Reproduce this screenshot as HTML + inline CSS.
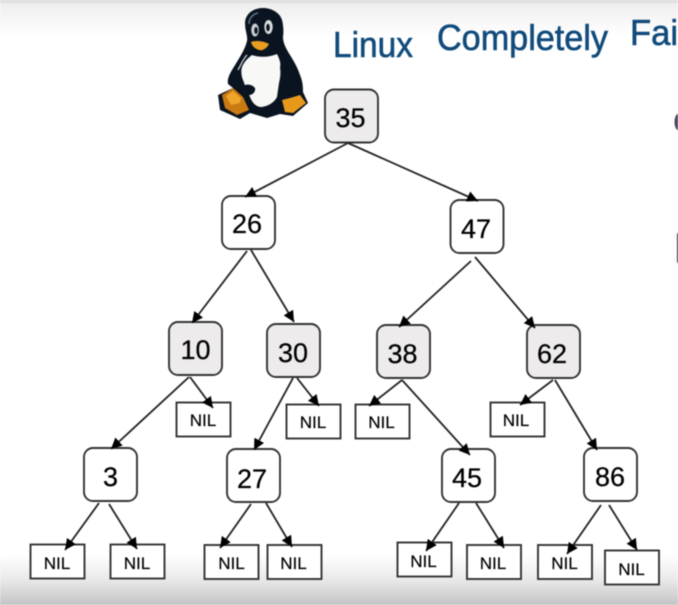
<!DOCTYPE html>
<html>
<head>
<meta charset="utf-8">
<style>
html,body{margin:0;padding:0;background:#fff}
#c{position:relative;width:678px;height:605px;overflow:hidden}
svg{position:absolute;left:0;top:0;display:block;filter:blur(.45px)}
text{font-family:"Liberation Sans",sans-serif;fill:#000;text-anchor:middle}
.n{font-size:27px;stroke:#000;stroke-width:.25px}
.l{font-size:17px;stroke:#000;stroke-width:.2px}
.h{font-size:36px;fill:#104b7c;stroke:#104b7c;stroke-width:.6px;text-anchor:start}
</style>
</head>
<body>
<div id="c">
<svg width="678" height="605" viewBox="0 0 678 605" xmlns="http://www.w3.org/2000/svg">
<defs>
<linearGradient id="t" x1="0" y1="0" x2="0" y2="1"><stop offset="0" stop-color="#d6d6d6"/><stop offset=".12" stop-color="#efefef"/><stop offset="1" stop-color="#fff"/></linearGradient>
<linearGradient id="b" x1="0" y1="0" x2="0" y2="1"><stop offset="0" stop-color="#fff"/><stop offset=".5" stop-color="#e9e9e9"/><stop offset="1" stop-color="#c4c4c4"/></linearGradient>
<marker id="a" markerUnits="userSpaceOnUse" markerWidth="14" markerHeight="12" refX="11" refY="5.500" orient="auto"><path d="M0,0 L11,5.500 L0,11 Z" fill="#000"/></marker>
<g id="nil"><rect width="54" height="34" fill="#fff" stroke="#333" stroke-width="1.9"/></g>
</defs>
<rect width="678" height="605" fill="#fff"/>
<rect width="678" height="36" fill="url(#t)"/>
<rect y="555" width="678" height="50" fill="url(#b)"/>

<!-- penguin -->
<path d="M263,8 C252,8 245,15 245,23 C245,31 248,36 247,41 C245,50 238,60 232,70 C229,75 227,80 228,84 L233,88 L218,95 L220,110 L240,119 L250,113 L267,118 L280,114 L293,116 L308,103 L303,92 C303,84 302,80 300,75 C297,66 293,60 290,55 C285,47 283,42 283,37 C284,30 283,24 282,20 C280,13 272,8 263,8 Z" fill="#0a1420"/>
<path d="M252,55 C260,58 270,57 277,54 C280,60 281,64 280,67 C281,74 280,79 279,83 L277,97 C274,103 267,107 260,107 C255,106 252,102 250,97 C248,92 245,86 243,80 C241,75 241,70 242,67 C244,62 248,58 252,55 Z" fill="#f8f8f6"/>
<path d="M240,88 C245,83 252,84 255,88 C256,92 252,96 247,95 C244,95 241,92 240,88 Z" fill="#0a1420"/>
<path d="M279,90 C282,84 289,83 293,86 C294,91 290,96 284,97 C281,97 279,94 279,90 Z" fill="#0a1420"/>
<path d="M238,70 C241,64 244,58 247,55" stroke="#dfe3e8" stroke-width="1.2" fill="none"/>
<path d="M249,24 C249,18 253,14 258,13" stroke="#5a6e8a" stroke-width="1.6" fill="none"/>
<ellipse cx="255" cy="30" rx="3.800" ry="6.500" fill="#c9ced2"/>
<ellipse cx="268.500" cy="27" rx="4.200" ry="7" fill="#d8dcdf"/>
<ellipse cx="256" cy="30.500" rx="1.700" ry="3.500" fill="#0a1420"/>
<ellipse cx="268" cy="27.500" rx="1.800" ry="3.800" fill="#0a1420"/>
<path d="M251,42 C256,40 264,41 269,44 C267,48 263,51 259,50 C255,49 252,46 251,42 Z" fill="#e89e20"/>
<path d="M222,95 L233,88 L243,97 L249,110 L237,115 L225,108 Z" fill="#c97a12"/>
<path d="M226,96 L233,91 L241,98 L240,103 L231,105 Z" fill="#efa52a"/>
<path d="M282,100 L290,98 L300,95 L306,103 L293,113 L285,112 Z" fill="#e8991c"/>

<!-- title -->
<text class="h" x="333" y="57" textLength="80" lengthAdjust="spacingAndGlyphs">Linux</text>
<text class="h" x="437" y="50" textLength="171" lengthAdjust="spacingAndGlyphs">Completely</text>
<text class="h" x="630" y="45" textLength="48" lengthAdjust="spacingAndGlyphs">Fai</text>

<!-- right-edge fragments -->
<ellipse cx="678" cy="122" rx="3.500" ry="8" fill="#4a4560"/>
<rect x="677" y="233" width="2" height="30" rx="1" fill="#222"/>

<!-- nodes -->
<g stroke="#333" stroke-width="1.9">
<rect x="325" y="89.500" width="53" height="53" rx="9" fill="#edebeb"/>
<rect x="222" y="196" width="53" height="53" rx="9" fill="#fff"/>
<rect x="450.500" y="200" width="53" height="53" rx="9" fill="#fff"/>
<rect x="169" y="322" width="53" height="53" rx="9" fill="#edebeb"/>
<rect x="267" y="324" width="53" height="53" rx="9" fill="#edebeb"/>
<rect x="377" y="325" width="53" height="53" rx="9" fill="#edebeb"/>
<rect x="527" y="325" width="53" height="53" rx="9" fill="#edebeb"/>
<rect x="84" y="448" width="53" height="53" rx="9" fill="#fff"/>
<rect x="227" y="449" width="53" height="53" rx="9" fill="#fff"/>
<rect x="442" y="449" width="53" height="53" rx="9" fill="#fff"/>
<rect x="584" y="448" width="53" height="53" rx="9" fill="#fff"/>
</g>
<use href="#nil" x="176.500" y="402.500"/>
<use href="#nil" x="286.500" y="404.500"/>
<use href="#nil" x="355.500" y="404.500"/>
<use href="#nil" x="490.500" y="402.500"/>
<use href="#nil" x="30.500" y="544.500"/>
<use href="#nil" x="110.500" y="544.500"/>
<use href="#nil" x="204.500" y="545"/>
<use href="#nil" x="267.500" y="545"/>
<use href="#nil" x="397.500" y="542.500"/>
<use href="#nil" x="467" y="545"/>
<use href="#nil" x="538" y="545"/>
<use href="#nil" x="605" y="550.500"/>

<!-- connectors -->
<g stroke="#222" stroke-width="1.8" fill="none">
<line x1="348" y1="143" x2="245" y2="197" marker-end="url(#a)"/>
<line x1="348" y1="143" x2="478" y2="201" marker-end="url(#a)"/>
<line x1="247" y1="251" x2="192" y2="323" marker-end="url(#a)"/>
<line x1="251" y1="250" x2="294" y2="322" marker-end="url(#a)"/>
<line x1="471" y1="261" x2="399" y2="327" marker-end="url(#a)"/>
<line x1="475" y1="257" x2="535" y2="328" marker-end="url(#a)"/>
<line x1="189" y1="377" x2="111" y2="449" marker-end="url(#a)"/>
<line x1="190" y1="377" x2="213" y2="408" marker-end="url(#a)"/>
<line x1="293" y1="378" x2="254" y2="450" marker-end="url(#a)"/>
<line x1="297" y1="378" x2="319" y2="406" marker-end="url(#a)"/>
<line x1="402" y1="380" x2="369" y2="406" marker-end="url(#a)"/>
<line x1="402" y1="380" x2="470" y2="455" marker-end="url(#a)"/>
<line x1="553" y1="380" x2="520" y2="405" marker-end="url(#a)"/>
<line x1="555" y1="380" x2="597" y2="450" marker-end="url(#a)"/>
<line x1="99" y1="503" x2="65" y2="550" marker-end="url(#a)"/>
<line x1="109" y1="504" x2="137" y2="549" marker-end="url(#a)"/>
<line x1="251" y1="504" x2="220" y2="548" marker-end="url(#a)"/>
<line x1="266" y1="503" x2="292" y2="547" marker-end="url(#a)"/>
<line x1="459" y1="503" x2="426" y2="551" marker-end="url(#a)"/>
<line x1="476" y1="503" x2="504" y2="548" marker-end="url(#a)"/>
<line x1="601" y1="505" x2="567" y2="554" marker-end="url(#a)"/>
<line x1="609" y1="505" x2="637" y2="550" marker-end="url(#a)"/>
</g>

<!-- node labels -->
<text class="n" x="350.500" y="127">35</text>
<text class="n" x="247" y="233">26</text>
<text class="n" x="476" y="238">47</text>
<text class="n" x="195.500" y="359">10</text>
<text class="n" x="293" y="362">30</text>
<text class="n" x="402.500" y="363">38</text>
<text class="n" x="552" y="363">62</text>
<text class="n" x="110.500" y="486">3</text>
<text class="n" x="252" y="488">27</text>
<text class="n" x="467" y="487">45</text>
<text class="n" x="610" y="486">86</text>

<!-- NIL labels -->
<text class="l" x="203" y="426">NIL</text>
<text class="l" x="313" y="428">NIL</text>
<text class="l" x="381.500" y="428">NIL</text>
<text class="l" x="516" y="426">NIL</text>
<text class="l" x="57" y="569">NIL</text>
<text class="l" x="137" y="569">NIL</text>
<text class="l" x="231.500" y="569">NIL</text>
<text class="l" x="293.500" y="569">NIL</text>
<text class="l" x="423.500" y="567">NIL</text>
<text class="l" x="493" y="569">NIL</text>
<text class="l" x="564.500" y="569">NIL</text>
<text class="l" x="631.500" y="575">NIL</text>
</svg>
</div>
</body>
</html>
